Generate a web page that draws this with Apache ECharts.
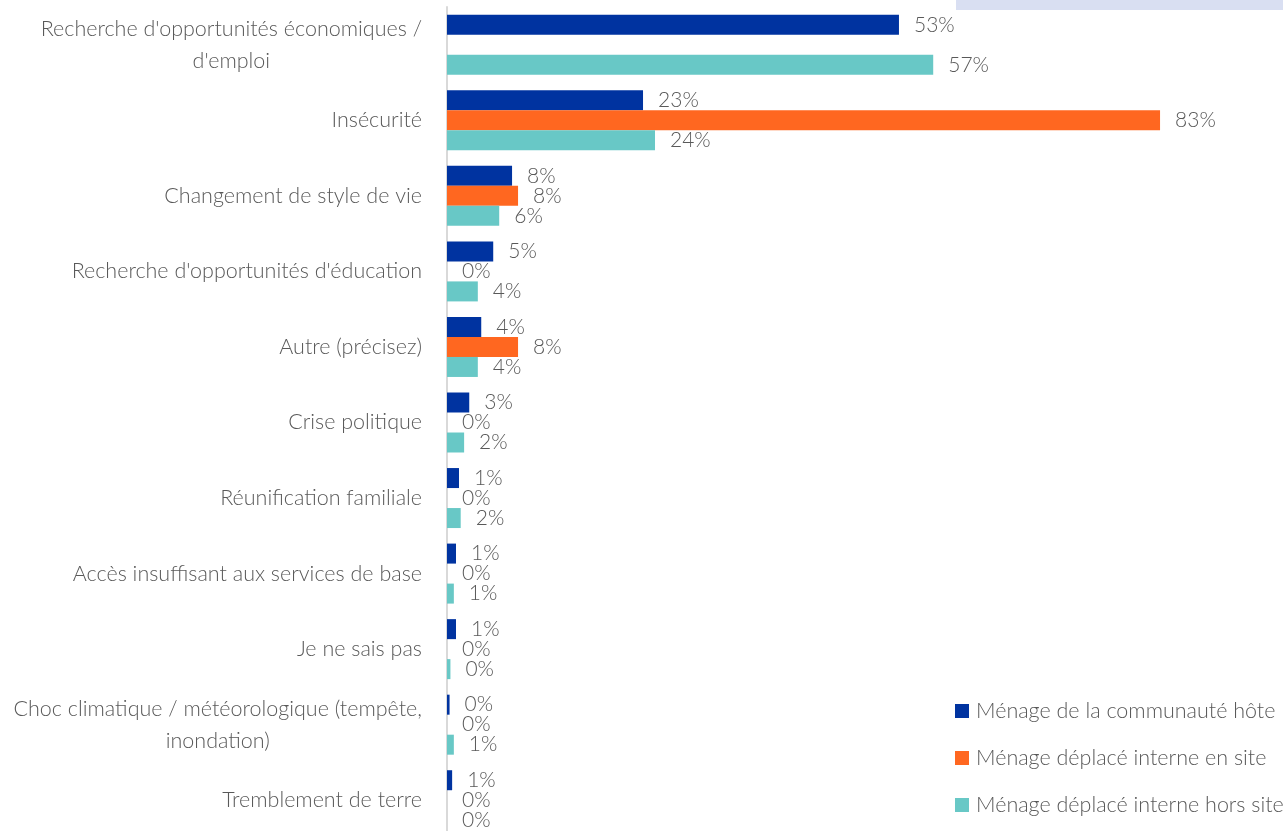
<!DOCTYPE html>
<html>
<head>
<meta charset="utf-8">
<script src="https://cdn.jsdelivr.net/npm/echarts@6/dist/echarts.min.js"></script>
<style>html,body{margin:0;padding:0;background:#fff;overflow:hidden;}#c{width:1340px;height:860px;}</style>
</head>
<body>
<div id="c"></div>
<script>
const categories = [
  "Recherche d'opportunités économiques /\nd'emploi",
  "Insécurité",
  "Changement de style de vie",
  "Recherche d'opportunités d'éducation",
  "Autre (précisez)",
  "Crise politique",
  "Réunification familiale",
  "Accès insuffisant aux services de base",
  "Je ne sais pas",
  "Choc climatique / météorologique (tempête,\ninondation)",
  "Tremblement de terre"
];
const seriesNames = [
  "Ménage de la communauté hôte",
  "Ménage déplacé interne en site",
  "Ménage déplacé interne hors site"
];
const hote = [52.8, 22.9, 7.6, 5.4, 4.0, 2.6, 1.4, 1.05, 1.05, 0.3, 0.6];
const enSite = [null, 83.3, 8.3, 0, 8.3, 0, 0, 0, 0, 0, 0];
const horsSite = [56.8, 24.3, 6.1, 3.6, 3.6, 2.0, 1.6, 0.8, 0.4, 0.8, 0];
const colors = ["#0033A0", "#FF6720", "#68C8C6"];

const FONT = "Lato";
const chart = echarts.init(document.getElementById('c'));
const labelCfg = {
  show: true,
  position: 'right',
  distance: 15,
  color: '#595959',
  fontFamily: FONT,
  fontWeight: 300,
  fontSize: 21,
  formatter: p => (p.value == null ? '' : Math.round(p.value) + '%')
};
const mk = (name, data, color) => ({
  name: name,
  type: 'bar',
  data: data,
  barWidth: 20,
  barGap: '0%',
  itemStyle: { color: color },
  label: labelCfg,
  emphasis: { disabled: true },
  animation: false
});
chart.setOption({
  animation: false,
  graphic: [{
    type: 'rect',
    shape: { x: 956, y: 0, width: 327, height: 10 },
    style: { fill: '#D9DFF2' },
    silent: true
  }],
  legend: {
    orient: 'vertical',
    left: 950,
    top: 695,
    itemWidth: 14,
    itemHeight: 14,
    itemGap: 25,
    icon: 'rect',
    data: seriesNames,
    textStyle: { color: '#595959', fontFamily: FONT, fontWeight: 300, fontSize: 21.5, padding: [0, 0, 0, 2] }
  },
  grid: { left: 447, top: 7, width: 856, height: 831, containLabel: false },
  xAxis: {
    type: 'value',
    min: 0,
    max: 100,
    show: false
  },
  yAxis: {
    type: 'category',
    inverse: true,
    data: categories,
    axisLine: { show: true, lineStyle: { color: '#D9D9D9', width: 2 } },
    axisTick: { show: false },
    splitLine: { show: false },
    axisLabel: {
      margin: 25,
      color: '#595959',
      fontFamily: FONT,
      fontWeight: 300,
      fontSize: 21.5,
      formatter: v => v.split('\n').map(l => '{c|' + l + '}').join('\n'),
      rich: {
        c: { align: 'center', color: '#595959', fontFamily: FONT, fontWeight: 300, fontSize: 21.5, lineHeight: 32 }
      }
    }
  },
  series: [
    mk(seriesNames[0], hote, colors[0]),
    mk(seriesNames[1], enSite, colors[1]),
    mk(seriesNames[2], horsSite, colors[2])
  ]
});
</script>
</body>
</html>
